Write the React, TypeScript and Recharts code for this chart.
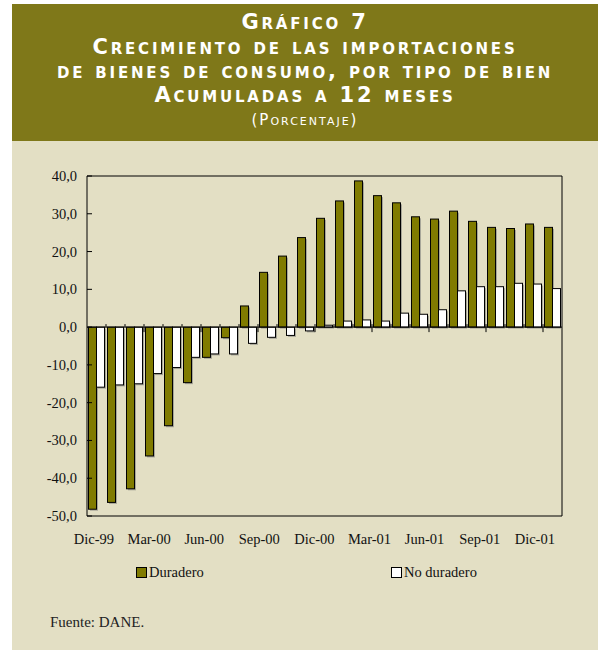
import React from "react";
import { BarChart, Bar, XAxis, YAxis, ReferenceLine, ReferenceArea } from "recharts";

const months = [
  "Dic-99", "Ene-00", "Feb-00", "Mar-00", "Abr-00", "May-00", "Jun-00", "Jul-00", "Ago-00",
  "Sep-00", "Oct-00", "Nov-00", "Dic-00", "Ene-01", "Feb-01", "Mar-01", "Abr-01", "May-01",
  "Jun-01", "Jul-01", "Ago-01", "Sep-01", "Oct-01", "Nov-01", "Dic-01",
];
const duradero = [
  -48.2, -46.4, -42.8, -34.1, -26.1, -14.7, -8.0, -2.8, 5.6, 14.5, 18.8, 23.7, 28.8,
  33.4, 38.7, 34.8, 32.9, 29.2, 28.6, 30.7, 28.0, 26.4, 26.1, 27.3, 26.4,
];
const noDuradero = [
  -15.9, -15.3, -15.0, -12.3, -10.7, -8.0, -7.1, -7.1, -4.3, -2.7, -2.2, -1.0, 0.5,
  1.6, 1.9, 1.6, 3.7, 3.4, 4.6, 9.6, 10.7, 10.7, 11.6, 11.4, 10.2,
];
const yTicks = [-50, -40, -30, -20, -10, 0, 10, 20, 30, 40];
const shownLabels = ["Dic-99", "Mar-00", "Jun-00", "Sep-00", "Dic-00", "Mar-01", "Jun-01", "Sep-01", "Dic-01"];
const seriesNames = ["Duradero", "No duradero"];
const titleLines = [
  "Gráfico 7",
  "Crecimiento de las importaciones",
  "de bienes de consumo, por tipo de bien",
  "Acumuladas a 12 meses",
];
const subtitle = "(Porcentaje)";
const source = "Fuente: DANE.";

const data = months.map((m, i) => ({ month: m, duradero: duradero[i], noDuradero: noDuradero[i] }));

const OLIVE = "#807B00";
const BANNER = "#7F7819";
const BEIGE = "#E3DFC4";
const SERIF = "'Liberation Serif', 'Times New Roman', serif";
const SANS = "'DejaVu Sans', sans-serif";

const W = 598;
const H = 600;
const M = { top: 176, right: 36, bottom: 54, left: 47 };
const Y_W = 40;
const X_H = 30;
const PLOT_W = W - M.left - M.right - Y_W;
const PLOT_H = H - M.top - M.bottom - X_H;
const BAND = PLOT_W / months.length;
const Y_MIN = -50;
const Y_MAX = 40;
const ZERO_Y = M.top + (Y_MAX / (Y_MAX - Y_MIN)) * PLOT_H;

const fmt = (v: number) => v.toFixed(1).replace(".", ",");

const XTick = (props: any) => {
  const { x, y, index, payload } = props;
  const bx = x + BAND / 2;
  const major = (index + 1) % 3 === 0;
  const label = shownLabels.includes(payload.value) ? payload.value : null;
  return (
    <g>
      {index < months.length - 1 && (
        <line x1={bx} x2={bx} y1={ZERO_Y - 3} y2={major ? ZERO_Y + 5 : ZERO_Y} stroke="#000" strokeWidth={1} />
      )}
      {label && (
        <text x={x - 2.5 - 0.633 * index} y={y + 28} textAnchor="middle" fontFamily={SERIF} fontSize={14.5} fill="#111">
          {label}
        </text>
      )}
    </g>
  );
};

const YTick = (props: any) => {
  const { x, y, payload } = props;
  return (
    <g>
      <line x1={x} x2={x + 5} y1={y} y2={y} stroke="#000" strokeWidth={1} />
      <text x={x - 10} y={y + 5} textAnchor="end" fontFamily={SERIF} fontSize={14.5} fill="#111">
        {fmt(payload.value)}
      </text>
    </g>
  );
};

const BarShape = (props: any) => {
  const { x, y, width, height, fill } = props;
  const top = height < 0 ? y + height : y;
  const h = Math.abs(height);
  if (!h) return null;
  return (
    <g>
      <rect x={x + 1.5} y={top + 1.5} width={width} height={h} fill="#777" opacity={0.55} />
      <rect x={x} y={top} width={width} height={h} fill={fill} stroke="#000" strokeWidth={1} />
    </g>
  );
};

export default function App() {
  return (
    <div style={{ position: "absolute", left: 0, top: 0, width: W, height: 656, background: "#fff", overflow: "hidden" }}>
      <div style={{ position: "absolute", left: 12, top: 4, width: 586, height: 646, background: BEIGE }} />
      <div style={{ position: "absolute", left: 12, top: 4, width: 586, height: 137, background: BANNER, color: "#fff", textAlign: "center", fontFamily: SANS }}>
        {titleLines.map((t, i) => (
          <div key={i} style={{ position: "absolute", left: 0, width: 586, top: [5, 30, 54, 78][i], fontSize: 21, fontWeight: "bold", fontVariant: "small-caps", letterSpacing: 2.8, lineHeight: "26px", whiteSpace: "nowrap" }}>
            {t}
          </div>
        ))}
        <div style={{ position: "absolute", left: 0, width: 586, top: 106, fontSize: 15, fontVariant: "small-caps", letterSpacing: 2, lineHeight: "20px" }}>
          {subtitle}
        </div>
      </div>
      <div style={{ position: "absolute", left: 0, top: 0 }}>
        <BarChart width={W} height={H} data={data} margin={M} barCategoryGap={1.5} barGap={0}>
          <ReferenceArea y1={Y_MIN} y2={Y_MAX} fill="none" stroke="#000" strokeWidth={1} ifOverflow="visible" />
          <XAxis dataKey="month" height={X_H} interval={0} tickSize={0} tickMargin={0} axisLine={false} tick={<XTick />} />
          <YAxis width={Y_W} domain={[Y_MIN, Y_MAX]} ticks={yTicks} interval={0} tickSize={0} tickMargin={0} axisLine={false} tick={<YTick />} allowDataOverflow />
          <Bar dataKey="duradero" name={seriesNames[0]} fill={OLIVE} isAnimationActive={false} shape={<BarShape />} />
          <Bar dataKey="noDuradero" name={seriesNames[1]} fill="#fff" isAnimationActive={false} shape={<BarShape />} />
          <ReferenceLine y={0} stroke="#000" strokeWidth={1} />
        </BarChart>
      </div>
      {seriesNames.map((n, i) => (
        <div key={n} style={{ position: "absolute", left: [136, 391][i], top: 564, display: "flex", alignItems: "center", fontFamily: SERIF, fontSize: 14.5, color: "#111" }}>
          <span style={{ display: "inline-block", width: 9, height: 9, border: "1px solid #000", background: i === 0 ? OLIVE : "#fff", marginRight: 2 }} />
          <span>{n}</span>
        </div>
      ))}
      <div style={{ position: "absolute", left: 50, top: 614, fontFamily: SERIF, fontSize: 15, color: "#222" }}>{source}</div>
    </div>
  );
}
